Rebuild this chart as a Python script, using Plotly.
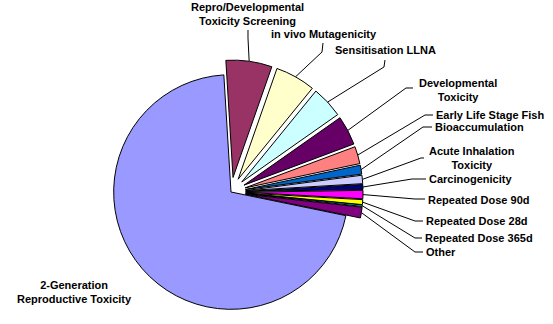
import math
import plotly.graph_objects as go

# ---- data ----
categories = [
    "Repro/Developmental Toxicity Screening",
    "in vivo Mutagenicity",
    "Sensitisation LLNA",
    "Developmental Toxicity",
    "Early Life Stage Fish",
    "Bioaccumulation",
    "Acute Inhalation Toxicity",
    "Carcinogenicity",
    "Repeated Dose 90d",
    "Repeated Dose 28d",
    "Repeated Dose 365d",
    "Other",
    "2-Generation Reproductive Toxicity",
]
shares = [6.34, 5.52, 4.37, 4.04, 2.38, 1.23, 1.15, 0.68, 1.15, 0.68, 0.19, 1.48, 70.8]
colors = ["#993366", "#FFFFCC", "#CCFFFF", "#660066", "#FF8080", "#0066CC",
          "#CCCCFF", "#000080", "#FF00FF", "#FFFF00", "#00FFFF", "#800080", "#9999FF"]
wrapped = {
    "Repro/Developmental Toxicity Screening": "Repro/Developmental<br>Toxicity Screening",
    "Developmental Toxicity": "Developmental<br>Toxicity",
    "Acute Inhalation Toxicity": "Acute Inhalation<br>Toxicity",
    "2-Generation Reproductive Toxicity": "2-Generation<br>Reproductive Toxicity",
}

# ---- layout geometry (pixels) ----
W, H = 553, 324
CX, CY, HALF = 231, 192, 132
PULL = 0.125
ROT = -3.5
R = 2 * HALF / (2 * (1 + PULL))
pulls = [PULL if c != "2-Generation Reproductive Toxicity" else 0 for c in categories]

# label text position (px), anchor, and leader elbow (px) or None
label_layout = {
    "Repro/Developmental Toxicity Screening": (247, 14, "center", [(248, 30), (248, 38)]),
    "in vivo Mutagenicity": (269, 34, "left", [(323, 43), (322, 52)]),
    "Sensitisation LLNA": (333, 50, "left", [(385, 60), (384, 67)]),
    "Developmental Toxicity": (458, 89.5, "center", [(413, 88), (406, 88)]),
    "Early Life Stage Fish": (434, 115, "left", [(433, 115), (425, 115)]),
    "Bioaccumulation": (433, 127, "left", [(432, 127), (423, 127)]),
    "Acute Inhalation Toxicity": (472, 158, "center", [(424, 158), (421, 158)]),
    "Carcinogenicity": (427, 179, "left", [(426, 179), (412, 179)]),
    "Repeated Dose 90d": (426, 199.5, "left", [(425, 199), (415, 199)]),
    "Repeated Dose 28d": (424, 221, "left", [(423, 221), (415, 221)]),
    "Repeated Dose 365d": (423, 238, "left", [(422, 238), (415, 238)]),
    "Other": (424, 252, "left", [(423, 252), (415, 252)]),
    "2-Generation Reproductive Toxicity": (74, 292, "center", None),
}


def px2paper(x, y):
    return x / W, 1 - y / H


fig = go.Figure(go.Pie(
    labels=categories,
    values=shares,
    sort=False,
    direction="clockwise",
    rotation=ROT,
    pull=pulls,
    marker=dict(colors=colors, line=dict(color="black", width=1)),
    textinfo="none",
    hoverinfo="label+percent",
    domain=dict(x=[(CX - HALF) / W, (CX + HALF) / W],
                y=[(H - CY - HALF) / H, (H - CY + HALF) / H]),
))

font = dict(family="Arial, 'Liberation Sans', sans-serif", size=11, color="black", weight="bold")
annotations = []
shapes = []
total = sum(shares)
cum = 0.0
for cat, v, p in zip(categories, shares, pulls):
    mid = math.radians(ROT + 360 * (cum + v / 2) / total)
    cum += v
    ex = CX + R * (1 + p) * math.sin(mid)
    ey = CY - R * (1 + p) * math.cos(mid)
    lx, ly, anchor, elbow = label_layout[cat]
    ax, ay = px2paper(lx, ly)
    annotations.append(dict(
        x=ax, y=ay, xref="paper", yref="paper", text=wrapped.get(cat, cat),
        showarrow=False, xanchor=anchor, yanchor="middle", align="center", font=font,
    ))
    if elbow:
        pts = elbow + [(ex, ey)]
        path = "M " + " L ".join("%.5f %.5f" % px2paper(x, y) for x, y in pts)
        shapes.append(dict(type="path", xref="paper", yref="paper", path=path,
                           line=dict(color="black", width=1)))

fig.update_layout(
    width=W, height=H,
    margin=dict(l=0, r=0, t=0, b=0),
    paper_bgcolor="white", plot_bgcolor="white",
    showlegend=False,
    annotations=annotations,
    shapes=shapes,
)

fig.write_html("out.html")
